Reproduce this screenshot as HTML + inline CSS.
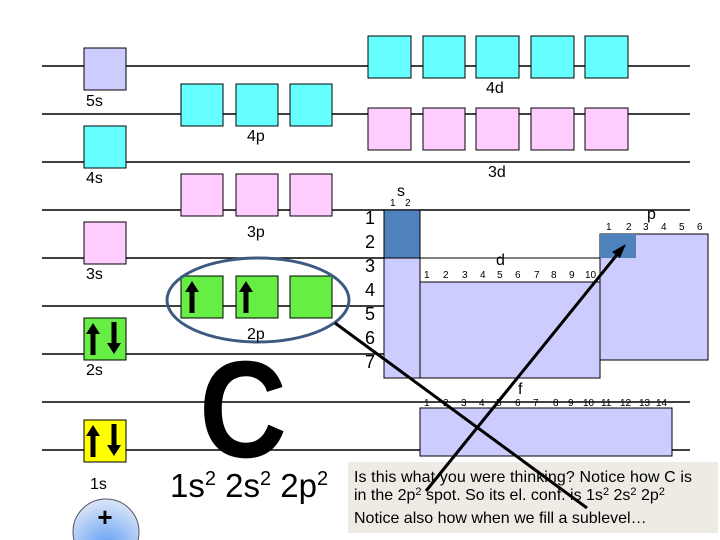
<!DOCTYPE html>
<html><head><meta charset="utf-8"><style>
html,body{margin:0;padding:0;background:#fff;}
svg{display:block;}
text{font-family:"Liberation Sans",Arial,sans-serif;}
</style></head><body>
<svg width="720" height="540" viewBox="0 0 720 540" xmlns="http://www.w3.org/2000/svg">
<defs>
<radialGradient id="nuc" cx="0.5" cy="0.75" r="0.7">
<stop offset="0" stop-color="#5f9cf5"/><stop offset="1" stop-color="#d4e2f7"/>
</radialGradient>
</defs>
<g stroke="#000" stroke-width="1.5">
<line x1="42" y1="66" x2="690" y2="66"/>
<line x1="42" y1="114" x2="690" y2="114"/>
<line x1="42" y1="162" x2="690" y2="162"/>
<line x1="42" y1="210" x2="690" y2="210"/>
<line x1="42" y1="258" x2="384" y2="258"/>
<line x1="42" y1="306" x2="384" y2="306"/>
<line x1="42" y1="354" x2="384" y2="354"/>
<line x1="42" y1="402" x2="690" y2="402"/>
<line x1="42" y1="450" x2="690" y2="450"/>
</g>
<g stroke="#000" stroke-width="1">
<rect x="84" y="48" width="42" height="42" fill="#ccccff"/>
<rect x="84" y="126" width="42" height="42" fill="#66ffff"/>
<rect x="84" y="222" width="42" height="42" fill="#ffccff"/>
<rect x="84" y="318" width="42" height="42" fill="#66ee44"/>
<rect x="84" y="420" width="42" height="42" fill="#ffff00"/>
<rect x="181" y="84" width="42" height="42" fill="#66ffff"/>
<rect x="236" y="84" width="42" height="42" fill="#66ffff"/>
<rect x="290" y="84" width="42" height="42" fill="#66ffff"/>
<rect x="181" y="174" width="42" height="42" fill="#ffccff"/>
<rect x="236" y="174" width="42" height="42" fill="#ffccff"/>
<rect x="290" y="174" width="42" height="42" fill="#ffccff"/>
<rect x="181" y="276" width="42" height="42" fill="#66ee44"/>
<rect x="236" y="276" width="42" height="42" fill="#66ee44"/>
<rect x="290" y="276" width="42" height="42" fill="#66ee44"/>
<rect x="368" y="36" width="43" height="42" fill="#66ffff"/>
<rect x="423" y="36" width="42" height="42" fill="#66ffff"/>
<rect x="476" y="36" width="43" height="42" fill="#66ffff"/>
<rect x="531" y="36" width="43" height="42" fill="#66ffff"/>
<rect x="585" y="36" width="43" height="42" fill="#66ffff"/>
<rect x="368" y="108" width="43" height="42" fill="#ffccff"/>
<rect x="423" y="108" width="42" height="42" fill="#ffccff"/>
<rect x="476" y="108" width="43" height="42" fill="#ffccff"/>
<rect x="531" y="108" width="43" height="42" fill="#ffccff"/>
<rect x="585" y="108" width="43" height="42" fill="#ffccff"/>
</g>
<g fill="#000">
<path d="M90.5 355 v-21 h-4.5 l7 -11 l7 11 h-4.5 v21z"/>
<path d="M111.5 322 v21 h-4.5 l7 11 l7 -11 h-4.5 v-21z"/>
<path d="M90.5 457 v-21 h-4.5 l7 -11 l7 11 h-4.5 v21z"/>
<path d="M111.5 424 v21 h-4.5 l7 11 l7 -11 h-4.5 v-21z"/>
<path d="M189.5 313 v-21 h-4.5 l7 -11 l7 11 h-4.5 v21z"/>
<path d="M243.5 313 v-21 h-4.5 l7 -11 l7 11 h-4.5 v21z"/>
</g>
<ellipse cx="258" cy="300" rx="91" ry="42" fill="none" stroke="#3d5a80" stroke-width="3"/>
<g font-size="16" fill="#000">
<text x="86" y="106">5s</text>
<text x="486" y="93">4d</text>
<text x="247" y="141">4p</text>
<text x="86" y="183">4s</text>
<text x="488" y="177">3d</text>
<text x="247" y="237">3p</text>
<text x="86" y="279">3s</text>
<text x="247" y="339">2p</text>
<text x="86" y="375">2s</text>
<text x="90" y="489">1s</text>
</g>
<circle cx="106" cy="532" r="33" fill="url(#nuc)" stroke="#556" stroke-width="1"/>
<text x="105" y="526" font-size="26" font-weight="bold" text-anchor="middle">+</text>
<text x="243" y="457" font-size="138" font-weight="bold" text-anchor="middle" transform="translate(243 0) scale(0.88 1) translate(-243 0)">C</text>
<text x="170" y="497" font-size="33">1s<tspan font-size="20" dy="-12">2</tspan><tspan dy="12"> 2s</tspan><tspan font-size="20" dy="-12">2</tspan><tspan dy="12"> 2p</tspan><tspan font-size="20" dy="-12">2</tspan></text>
<g stroke="#000" stroke-width="1">
<rect x="384" y="258" width="36" height="120" fill="#ccccff"/>
<rect x="384" y="210" width="36" height="48" fill="#4f81bd"/>
<rect x="420" y="258" width="180" height="24" fill="#fff"/>
<rect x="420" y="282" width="180" height="96" fill="#ccccff"/>
<rect x="600" y="234" width="108" height="126" fill="#ccccff"/>
<rect x="600" y="234" width="36" height="24" fill="#4f81bd" stroke="none"/>
<rect x="420" y="408" width="252" height="48" fill="#ccccff"/>
</g>
<g font-size="18" fill="#000">
<text x="365" y="224">1</text><text x="365" y="248">2</text><text x="365" y="272">3</text>
<text x="365" y="296">4</text><text x="365" y="320">5</text><text x="365" y="344">6</text><text x="365" y="368">7</text>
</g>
<g font-size="16" fill="#000">
<text x="397" y="196">s</text><text x="496" y="265">d</text><text x="647" y="219">p</text><text x="518" y="394">f</text>
</g>
<g font-size="10" fill="#000">
<text x="390" y="206">1</text><text x="405" y="206">2</text>
<text x="424" y="278">1</text><text x="443" y="278">2</text><text x="462" y="278">3</text><text x="480" y="278">4</text><text x="497" y="278">5</text><text x="515" y="278">6</text><text x="534" y="278">7</text><text x="551" y="278">8</text><text x="569" y="278">9</text><text x="585" y="278">10</text>
<text x="606" y="230">1</text><text x="626" y="230">2</text><text x="643" y="230">3</text><text x="661" y="230">4</text><text x="679" y="230">5</text><text x="697" y="230">6</text>
<text x="424" y="406">1</text><text x="443" y="406">2</text><text x="461" y="406">3</text><text x="479" y="406">4</text><text x="496" y="406">5</text><text x="515" y="406">6</text><text x="533" y="406">7</text><text x="553" y="406">8</text><text x="568" y="406">9</text><text x="583" y="406">10</text><text x="601" y="406">11</text><text x="620" y="406">12</text><text x="639" y="406">13</text><text x="656" y="406">14</text>
</g>
<rect x="348" y="462" width="370" height="71" fill="#edebe3"/>
<g font-size="16" fill="#000">
<text x="354" y="482" textLength="338">Is this what you were thinking?  Notice how C is</text>
<text x="354" y="500">in the 2p<tspan font-size="11" dy="-5">2</tspan><tspan dy="5"> spot. So its el. conf. is 1s</tspan><tspan font-size="11" dy="-5">2</tspan><tspan dy="5"> 2s</tspan><tspan font-size="11" dy="-5">2</tspan><tspan dy="5"> 2p</tspan><tspan font-size="11" dy="-5">2</tspan></text>
<text x="354" y="523">Notice also how when we fill a sublevel…</text>
</g>
<g stroke="#000" stroke-width="3">
<line x1="335" y1="323" x2="587" y2="508"/>
<line x1="426" y1="491" x2="620" y2="251"/>
</g>
<path d="M626 244 L612 252 L620 258 Z" fill="#000"/>
</svg>
</body></html>
